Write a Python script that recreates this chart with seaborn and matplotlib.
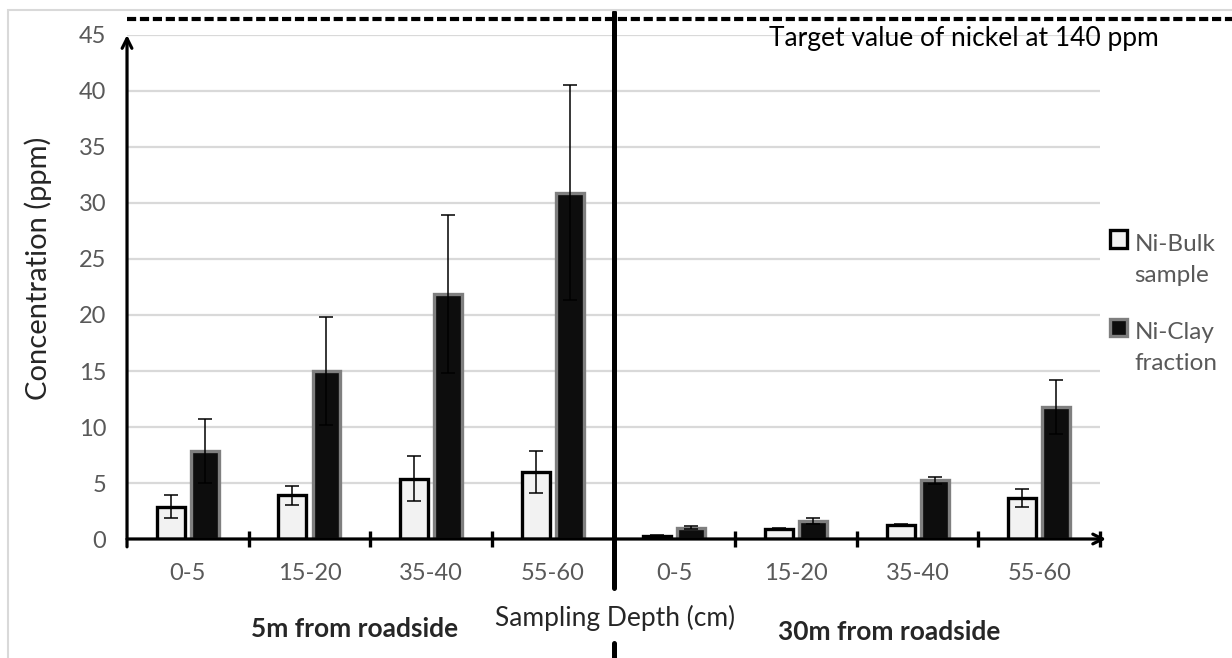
import numpy as np
import pandas as pd
import seaborn as sns
import matplotlib
matplotlib.use("Agg")
from matplotlib import pyplot as plt
from matplotlib.patches import Rectangle
from matplotlib.legend_handler import HandlerPatch

# data
depths = ["0-5", "15-20", "35-40", "55-60"]
sites = ["5m", "30m"]
bulk_vals = [2.9, 3.9, 5.4, 6.0, 0.3, 0.9, 1.25, 3.7]
bulk_err = [1.0, 0.85, 2.05, 1.85, 0.05, 0.05, 0.05, 0.8]
clay_vals = [7.85, 15.0, 21.9, 30.9, 1.0, 1.6, 5.25, 11.8]
clay_err = [2.85, 4.8, 7.05, 9.6, 0.15, 0.25, 0.3, 2.4]
series = ["Ni-Bulk\nsample", "Ni-Clay\nfraction"]

keys = [s + "|" + d for s in sites for d in depths]
df = pd.DataFrame({
    "key": keys * 2,
    "series": [series[0]] * 8 + [series[1]] * 8,
    "value": bulk_vals + clay_vals,
})

sns.set_style("white")
plt.rcParams["font.family"] = ["Lato", "DejaVu Sans"]

fig = plt.figure(figsize=(12.32, 6.58), dpi=100)
ax = fig.add_axes([0.1031, 0.18085, 0.7898, 0.76596])

sns.barplot(data=df, x="key", y="value", hue="series", order=keys,
            hue_order=series, palette=["#f2f2f2", "#0d0d0d"],
            width=0.56, gap=0.18, errorbar=None, ax=ax, zorder=3)

bar_conts = list(ax.containers)
edges = ["black", "#7f7f7f"]
errs = [bulk_err, clay_err]
for cont, ec, er in zip(bar_conts, edges, errs):
    xs, hs = [], []
    for p in cont.patches:
        p.set_edgecolor(ec)
        p.set_linewidth(2.4)
        xs.append(p.get_x() + p.get_width() / 2)
        hs.append(p.get_height())
    ax.errorbar(xs, hs, yerr=er, fmt="none", ecolor="black",
                elinewidth=1.1, capsize=5, capthick=1.1, zorder=4)

ax.set_xlim(-0.5, 7.5)
ax.set_ylim(0, 45)
ax.set_yticks(np.arange(0, 46, 5))
ax.set_xticks(range(8))
ax.set_xticklabels(depths * 2)
ax.yaxis.grid(True, color="#d9d9d9", lw=1.6, zorder=0)
ax.xaxis.grid(False)
for s in ax.spines.values():
    s.set_visible(False)
ax.tick_params(axis="both", length=0, labelsize=17, labelcolor="#595959")
ax.tick_params(axis="x", pad=17)
ax.tick_params(axis="y", pad=15)
ax.set_xlabel("")
ax.set_ylabel("")

# hand-drawn style axes with arrows
ax.annotate("", xy=(-0.5, 45), xytext=(-0.5, -0.7),
            arrowprops=dict(arrowstyle="->,head_length=0.7,head_width=0.35",
                            lw=2.3, color="black", shrinkA=0, shrinkB=0),
            annotation_clip=False, zorder=6)
ax.annotate("", xy=(7.55, 0), xytext=(-0.5, 0),
            arrowprops=dict(arrowstyle="->,head_length=0.7,head_width=0.35",
                            lw=2.3, color="black", shrinkA=0, shrinkB=0),
            annotation_clip=False, zorder=6)
bounds = np.arange(0.5, 8.0, 1.0)
ax.vlines(bounds, -0.75, 0.75, color="black", lw=2.4, clip_on=False, zorder=6)

# target value line
ax.axhline(46.4, xmin=0, xmax=1.14, color="black", lw=3,
           ls=(0, (2.2, 0.9)), clip_on=False, zorder=6)
ax.text(6.38, 44.7, "Target value of nickel at 140 ppm", ha="center",
        va="center", fontsize=19, color="black", clip_on=False)

# divider between the two sites
trans = ax.get_xaxis_transform()
ax.plot([3.5, 3.5], [1.0456, -0.097], transform=trans, color="black",
        lw=3.6, clip_on=False, zorder=6)
ax.plot([3.5, 3.5], [-0.206, -0.25], transform=trans, color="black",
        lw=3.6, clip_on=False, zorder=6)

fig.text(615 / 1232, 1 - 618 / 658, "Sampling Depth (cm)", ha="center",
         va="center", fontsize=19)
fig.text(355 / 1232, 1 - 629 / 658, "5m from roadside", ha="center",
         va="center", fontsize=19, fontweight="bold")
fig.text(889 / 1232, 1 - 632 / 658, "30m from roadside", ha="center",
         va="center", fontsize=19, fontweight="bold")
fig.text(38 / 1232, 1 - 268 / 658, "Concentration (ppm)", ha="center",
         va="center", rotation=90, fontsize=21)


def top_square(legend, orig_handle, xdescent, ydescent, width, height, fontsize):
    # square sits next to the first line of a two-line label
    return Rectangle((-xdescent, -ydescent + 0.85 * fontsize), width, height)


leg = ax.legend(handles=[c.patches[0] for c in bar_conts], labels=series,
                loc="center left", bbox_to_anchor=(1110 / 1232, 1 - 304 / 658),
                bbox_transform=fig.transFigure, frameon=False, fontsize=17.5,
                borderpad=0, borderaxespad=0,
                handlelength=0.7, handleheight=0.7, handletextpad=0.3,
                labelspacing=1.5, labelcolor="#595959",
                handler_map={matplotlib.patches.Rectangle:
                             HandlerPatch(patch_func=top_square)})
for t in leg.get_texts():
    t.set_linespacing(1.6)

fig.add_artist(Rectangle((8 / 1232, -0.1), 1.1, 1.1 - 10 / 658,
                         transform=fig.transFigure, fill=False,
                         ec="#d9d9d9", lw=1.5))

fig.savefig("out.png", dpi=100)
